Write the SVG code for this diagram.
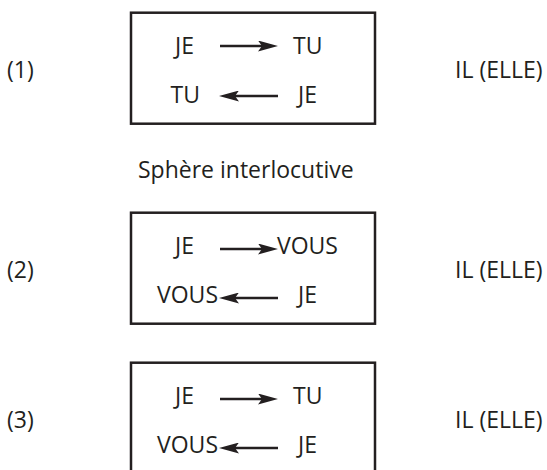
<svg xmlns="http://www.w3.org/2000/svg" width="547" height="470" viewBox="0 0 547 470">
<style>
text{font-family:"Open Sans","Liberation Sans",sans-serif;font-size:23px;fill:#231f20}
.box{fill:none;stroke:#231f20;stroke-width:2.5}
.arr{stroke:#231f20;stroke-width:2.3;fill:none;marker-end:url(#ah)}
.e{text-anchor:end}
</style>
<defs>
<marker id="ah" viewBox="0 0 20 11" refX="12" refY="5.5" markerWidth="20" markerHeight="11" markerUnits="userSpaceOnUse" orient="auto">
<path d="M0,0 L20,5.5 L0,11 L4,5.5 Z" fill="#231f20"/>
</marker>
</defs>
<rect width="547" height="470" fill="#fff"/>
<g id="label1"><text x="7" y="78">(1)</text></g>
<g id="label2"><text x="7" y="278">(2)</text></g>
<g id="label3"><text x="7" y="428">(3)</text></g>
<g id="il1"><text x="455" y="78">IL (ELLE)</text></g>
<g id="il2"><text x="455" y="278">IL (ELLE)</text></g>
<g id="il3"><text x="455" y="428">IL (ELLE)</text></g>
<g id="sphere"><text x="138" y="178">Sphère interlocutive</text></g>
<g id="box1">
<rect class="box" x="131" y="12.7" width="244" height="111"/>
<text x="175" y="54">JE</text><text x="293" y="54">TU</text>
<text class="e" x="200" y="103">TU</text><text x="298" y="103">JE</text>
</g>
<g id="box2">
<rect class="box" x="131" y="212.7" width="244" height="111"/>
<text x="175" y="254">JE</text><text x="277" y="254">VOUS</text>
<text class="e" x="218" y="302.5">VOUS</text><text x="298" y="302.5">JE</text>
</g>
<g id="box3">
<rect class="box" x="131" y="362.7" width="244" height="130"/>
<text x="175" y="403.5">JE</text><text x="293" y="403.5">TU</text>
<text class="e" x="218" y="453">VOUS</text><text x="298" y="453">JE</text>
</g>
<g id="connectors">
<line class="arr" x1="220" y1="46" x2="270" y2="46"/>
<line class="arr" x1="278" y1="96" x2="227" y2="96"/>
<line class="arr" x1="220" y1="249" x2="270" y2="249"/>
<line class="arr" x1="278" y1="298" x2="227" y2="298"/>
<line class="arr" x1="220" y1="399" x2="270" y2="399"/>
<line class="arr" x1="278" y1="448" x2="227" y2="448"/>
</g>
</svg>
